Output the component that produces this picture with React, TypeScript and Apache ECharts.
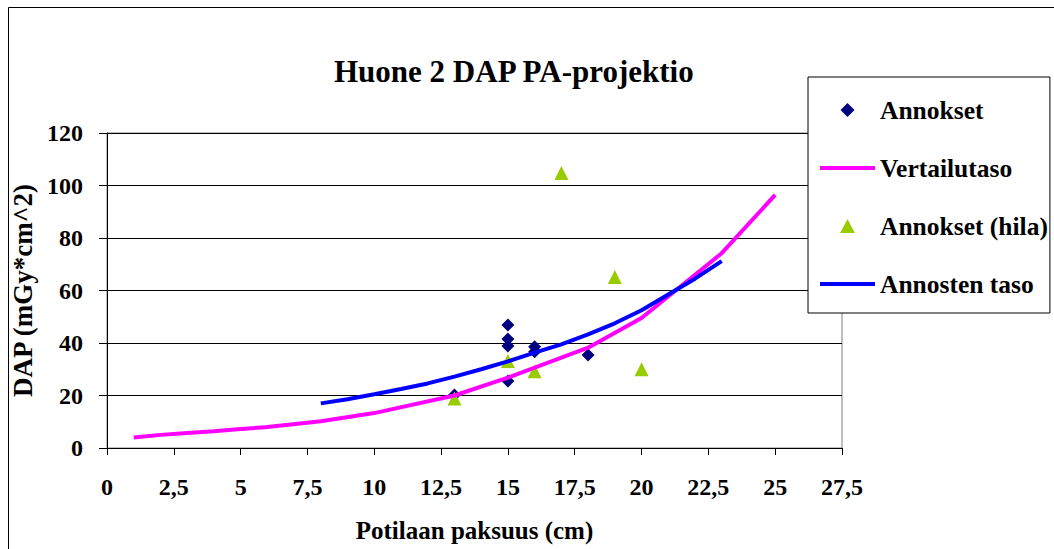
import React, { useEffect, useRef } from "react";
import * as echarts from "echarts";

const TITLE = "Huone 2 DAP PA-projektio";
const X_NAME = "Potilaan paksuus (cm)";
const Y_NAME = "DAP (mGy*cm^2)";
const LEGEND_NAMES = ["Annokset", "Vertailutaso", "Annokset (hila)", "Annosten taso"];

// Annokset (diamonds)
const annoksetX = [13, 15, 15, 15, 15, 16, 16, 18];
const annoksetY = [20.2, 46.9, 41.5, 38.9, 25.5, 38.6, 36.7, 35.4];

// Annokset (hila) (triangles)
const hilaX = [13, 15, 16, 17, 19, 20];
const hilaY = [18.9, 33.1, 29.2, 104.8, 65.1, 30];

// Vertailutaso (magenta line)
const vertX = [1, 2, 3, 4, 5, 6, 8, 10, 13, 15, 18, 20, 23, 25];
const vertY = [4, 5, 5.7, 6.4, 7.2, 8, 10.2, 13.3, 20, 26.8, 38.2, 49.5, 74.2, 96.4];

// Annosten taso (blue line)
const tasoX = [8, 9, 10, 11, 12, 13, 14, 15, 16, 17, 18, 19, 20, 21, 22, 23];
const tasoY = [17, 18.6, 20.5, 22.5, 24.6, 27.2, 30, 33, 36.3, 39.5, 43.3, 47.5, 52.5, 58.5, 64.5, 71.2];

const FONT = "'Liberation Serif', 'Times New Roman', serif";

const ICON_DIAMOND = "path://M0,-1 L1,0 L0,1 L-1,0 Z";
const ICON_TRIANGLE = "path://M0,-1 L1,0.9 L-1,0.9 Z";
const ICON_LINE = "path://M0,0 L55,0 L55,4 L0,4 Z";

const zip = (xs: number[], ys: number[]) => xs.map((x, i) => [x, ys[i]]);

export default function App() {
  const ref = useRef<HTMLDivElement>(null);
  useEffect(() => {
    if (!ref.current) return;
    const chart = echarts.init(ref.current, undefined, { renderer: "svg" });
    chart.setOption({
      animation: false,
      backgroundColor: "#ffffff",
      textStyle: { fontFamily: FONT },
      title: {
        text: TITLE,
        left: 334,
        top: 56,
        padding: 0,
        textStyle: { fontFamily: FONT, fontWeight: "bold", fontSize: 31, color: "#000" },
      },
      graphic: [
        {
          type: "rect",
          shape: { x: 8.5, y: 7.5, width: 1100, height: 600 },
          style: { fill: "none", stroke: "#000", lineWidth: 1 },
          silent: true,
          z: -1,
        },
      ],
      legend: {
        data: [
          { name: LEGEND_NAMES[0], icon: ICON_DIAMOND },
          { name: LEGEND_NAMES[1], icon: ICON_LINE },
          { name: LEGEND_NAMES[2], icon: ICON_TRIANGLE },
          { name: LEGEND_NAMES[3], icon: ICON_LINE },
        ],
        orient: "vertical",
        left: 808,
        top: 77,
        padding: [20, 2, 16, 12],
        itemGap: 32,
        itemWidth: 55,
        itemHeight: 14,
        symbolKeepAspect: true,
        backgroundColor: "#fff",
        borderColor: "#000",
        borderWidth: 1,
        textStyle: { fontFamily: FONT, fontWeight: "bold", fontSize: 25.5, color: "#000" },
      },
      grid: {
        left: 107,
        top: 133,
        width: 735,
        height: 315,
        show: true,
        borderColor: "#808080",
        borderWidth: 1,
      },
      xAxis: {
        type: "value",
        min: 0,
        max: 27.5,
        interval: 2.5,
        name: X_NAME,
        nameLocation: "middle",
        nameGap: 70,
        nameTextStyle: { fontFamily: FONT, fontWeight: "bold", fontSize: 25, color: "#000" },
        axisLine: { show: true, lineStyle: { color: "#000", width: 1 } },
        axisTick: { show: true, length: 7, lineStyle: { color: "#000" } },
        axisLabel: {
          margin: 27,
          fontFamily: FONT,
          fontWeight: "bold",
          fontSize: 24,
          color: "#000",
          formatter: (v: number) => String(v).replace(".", ","),
        },
        splitLine: { show: false },
      },
      yAxis: {
        type: "value",
        min: 0,
        max: 120,
        interval: 20,
        name: Y_NAME,
        nameLocation: "middle",
        nameGap: 66,
        nameTextStyle: { fontFamily: FONT, fontWeight: "bold", fontSize: 27, color: "#000" },
        axisLine: { show: true, lineStyle: { color: "#000", width: 1 } },
        axisTick: { show: true, length: 8, lineStyle: { color: "#000" } },
        axisLabel: {
          margin: 24,
          fontFamily: FONT,
          fontWeight: "bold",
          fontSize: 24,
          color: "#000",
        },
        splitLine: { show: true, lineStyle: { color: "#000", width: 1 } },
      },
      series: [
        {
          name: "Vertailutaso",
          type: "line",
          data: zip(vertX, vertY),
          symbol: "none",
          lineStyle: { color: "#FF00FF", width: 4 },
          itemStyle: { color: "#FF00FF" },
        },
        {
          name: "Annosten taso",
          type: "line",
          data: zip(tasoX, tasoY),
          symbol: "none",
          lineStyle: { color: "#0000FF", width: 4 },
          itemStyle: { color: "#0000FF" },
        },
        {
          name: "Annokset",
          type: "scatter",
          data: zip(annoksetX, annoksetY),
          symbol: "diamond",
          symbolSize: 13,
          itemStyle: { color: "#000080", opacity: 1 },
        },
        {
          name: "Annokset (hila)",
          type: "scatter",
          data: zip(hilaX, hilaY),
          symbol: "triangle",
          symbolSize: 14,
          itemStyle: { color: "#99CC00", opacity: 1 },
        },
      ],
    });
    return () => chart.dispose();
  }, []);
  return (
    <div
      ref={ref}
      style={{ position: "fixed", left: 0, top: 0, width: 1054, height: 549 }}
    />
  );
}
